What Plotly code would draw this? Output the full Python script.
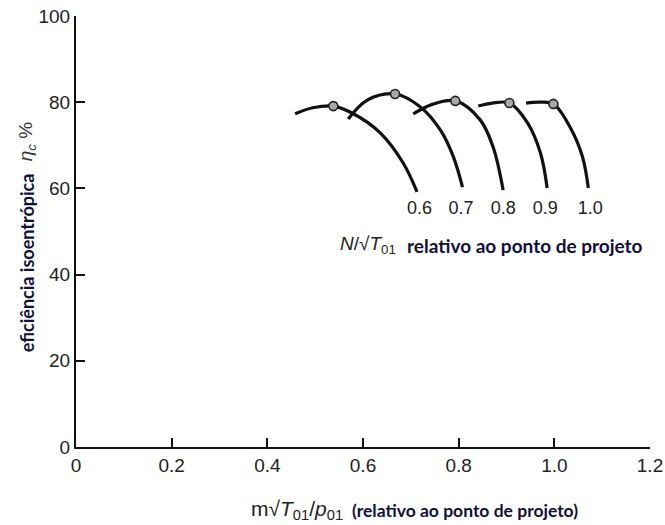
import plotly.graph_objects as go

# Speed lines N/sqrt(T01) relative to design point
speeds = ["0.6", "0.7", "0.8", "0.9", "1.0"]

flow_06 = [0.458, 0.495, 0.538, 0.577, 0.636, 0.684, 0.713]
eff_06 = [77.3, 78.7, 79.1, 77.5, 72.9, 65.9, 59.2]

flow_07 = [0.569, 0.609, 0.667, 0.720, 0.762, 0.789, 0.808]
eff_07 = [76.1, 80.5, 81.9, 78.9, 73.5, 67.3, 60.3]

flow_08 = [0.705, 0.745, 0.793, 0.845, 0.872, 0.893]
eff_08 = [77.3, 79.5, 80.3, 75.9, 69.6, 59.6]

flow_09 = [0.841, 0.870, 0.906, 0.944, 0.971, 0.985]
eff_09 = [79.1, 79.8, 79.8, 75.2, 68.2, 60.1]

flow_10 = [0.941, 0.970, 0.998, 1.033, 1.059, 1.071]
eff_10 = [79.8, 80.0, 79.6, 74.2, 67.3, 60.1]

peak_flow = [0.538, 0.667, 0.793, 0.906, 0.998]
peak_eff = [79.1, 81.9, 80.3, 79.8, 79.6]

label_flow = [0.718, 0.805, 0.893, 0.981, 1.075]
label_eff = [55.0, 55.0, 55.0, 55.0, 55.0]

x_ticks = [0, 0.2, 0.4, 0.6, 0.8, 1.0, 1.2]
x_ticktext = ["0", "0.2", "0.4", "0.6", "0.8", "1.0", "1.2"]
y_ticks = [0, 20, 40, 60, 80, 100]

NARROW = "Liberation Sans, Arial, sans-serif"
BOLD = "Lato, Open Sans, sans-serif"

fig = go.Figure()
for fx, fy in [(flow_06, eff_06), (flow_07, eff_07), (flow_08, eff_08),
               (flow_09, eff_09), (flow_10, eff_10)]:
    fig.add_trace(go.Scatter(x=fx, y=fy, mode="lines",
                             line=dict(color="#111111", width=3.2, shape="spline", smoothing=1.0),
                             showlegend=False, hoverinfo="skip"))

fig.add_trace(go.Scatter(x=peak_flow, y=peak_eff, mode="markers",
                         marker=dict(symbol="circle", size=9, color="#a8a8a8",
                                     line=dict(color="#222222", width=1.6)),
                         showlegend=False))

fig.add_trace(go.Scatter(x=label_flow, y=label_eff, mode="text", text=speeds,
                         textfont=dict(family=NARROW, size=18, color="#222222"),
                         showlegend=False, hoverinfo="skip"))

fig.update_layout(
    width=665, height=525,
    margin=dict(l=76, r=15, t=16, b=78, autoexpand=False),
    paper_bgcolor="white", plot_bgcolor="white",
    xaxis=dict(range=[0, 1.2], tickvals=x_ticks, ticktext=x_ticktext,
               ticks="inside", ticklen=9, tickwidth=1.5, tickcolor="#111",
               showline=True, linecolor="#111", linewidth=2, showgrid=False,
               zeroline=False, tickfont=dict(family=NARROW, size=19, color="#222"),
               automargin=False, fixedrange=True),
    yaxis=dict(range=[0, 100], tickvals=y_ticks,
               ticks="inside", ticklen=9, tickwidth=1.5, tickcolor="#111",
               showline=True, linecolor="#111", linewidth=2, showgrid=False,
               zeroline=False, tickfont=dict(family=NARROW, size=19, color="#222"),
               automargin=False, fixedrange=True),
    annotations=[
        dict(xref="paper", yref="paper", x=-0.085, y=(447 - 263) / 431,
             text="<b>eficiência isoentrópica</b>", textangle=-90, showarrow=False,
             xanchor="center", yanchor="middle",
             font=dict(family=BOLD, size=18, color="#10103a")),
        dict(xref="paper", yref="paper", x=-0.085, y=(447 - 142) / 431,
             text="<i>η<sub>c</sub></i> %", textangle=-90, showarrow=False,
             xanchor="center", yanchor="middle",
             font=dict(family=NARROW, size=19, color="#333")),
        dict(xref="paper", yref="paper", x=(345 - 76) / 574, y=-(510 - 447) / 431,
             text="m√<i>T</i><sub>01</sub>/<i>p</i><sub>01</sub>", showarrow=False,
             xanchor="right", yanchor="middle",
             font=dict(family=NARROW, size=21, color="#222")),
        dict(xref="paper", yref="paper", x=(350 - 76) / 574, y=-(510 - 447) / 431,
             text="<b>(relativo ao ponto de projeto)</b>", showarrow=False,
             xanchor="left", yanchor="middle",
             font=dict(family=BOLD, size=17.5, color="#10103a")),
        dict(xref="paper", yref="paper", x=(368 - 76) / 574, y=(447 - 245) / 431,
             text="<i>N</i>/√<i>T</i><sub>01</sub>", showarrow=False,
             xanchor="center", yanchor="middle",
             font=dict(family=NARROW, size=19, color="#222")),
        dict(xref="paper", yref="paper", x=(405 - 76) / 574, y=(447 - 245) / 431,
             text="<b>relativo ao ponto de projeto</b>", showarrow=False,
             xanchor="left", yanchor="middle",
             font=dict(family=BOLD, size=19, color="#10103a")),
    ],
)

fig.write_html("out.html")
